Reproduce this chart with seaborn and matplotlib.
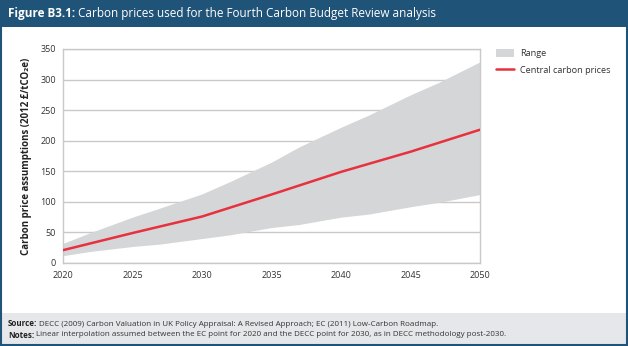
import matplotlib
matplotlib.use("Agg")
import matplotlib.pyplot as plt
import seaborn as sns
import pandas as pd
from matplotlib.patches import Rectangle, Patch
from matplotlib.lines import Line2D

# ---- data ----
central_years = [2020, 2025, 2030, 2035, 2040, 2045, 2050]
central_values = [21, 49, 76, 112, 149, 182, 218]

range_years = [2020, 2022, 2025, 2027, 2030, 2032, 2035, 2037, 2040, 2042, 2045, 2047, 2050]
range_high = [32, 50, 75, 90, 113, 133, 165, 190, 222, 242, 275, 295, 329]
range_low = [12, 19, 27, 31, 40, 46, 58, 63, 75, 80, 92, 99, 112]

x_ticks = [2020, 2025, 2030, 2035, 2040, 2045, 2050]
y_ticks = [0, 50, 100, 150, 200, 250, 300, 350]

title_bold = "Figure B3.1:"
title_rest = " Carbon prices used for the Fourth Carbon Budget Review analysis"
y_label = "Carbon price assumptions (2012 £/tCO₂e)"
legend_labels = ["Range", "Central carbon prices"]
source_text = "DECC (2009) Carbon Valuation in UK Policy Appraisal: A Revised Approach; EC (2011) Low-Carbon Roadmap."
notes_text = "Linear interpolation assumed between the EC point for 2020 and the DECC point for 2030, as in DECC methodology post-2030."

# ---- style ----
sns.set_theme(style="white")
plt.rcParams['font.family'] = ['Open Sans', 'DejaVu Sans']

BLUE = "#1f5378"
RED = "#e8313f"
GREY_FILL = "#d5d6d8"
GRID = "#c9c9c9"
TEXT = "#333333"

W, H = 628, 346
fig = plt.figure(figsize=(W / 100, H / 100), dpi=100)

# title bar, footer, border
fig.patches.append(Rectangle((0, 1 - 27 / H), 1, 27 / H, transform=fig.transFigure,
                             facecolor=BLUE, edgecolor='none', zorder=0))
fig.patches.append(Rectangle((0, 2 / H), 1, 31 / H, transform=fig.transFigure,
                             facecolor="#e6e7ea", edgecolor='none', zorder=0))
fig.patches.append(Rectangle((1 / W, 1 / H), 1 - 2.5 / W, 1 - 2 / H, transform=fig.transFigure,
                             facecolor='none', edgecolor=BLUE, linewidth=1.5, zorder=5))

ax = fig.add_axes([63 / W, 1 - 263 / H, (480 - 63) / W, (263 - 49) / H])

rdf = pd.DataFrame({"year": range_years, "low": range_low, "high": range_high})
ax.fill_between(rdf["year"], rdf["low"], rdf["high"], color=GREY_FILL, linewidth=0, zorder=1)

df = pd.DataFrame({"year": central_years, "value": central_values})
sns.lineplot(data=df, x="year", y="value", ax=ax, color=RED, linewidth=1.8, zorder=3)

ax.set_xlim(2020, 2050)
ax.set_ylim(0, 350)
ax.set_xticks(x_ticks)
ax.set_yticks(y_ticks)
ax.yaxis.grid(True, color=GRID, linewidth=1.0, zorder=0)
ax.set_axisbelow(True)
for s in ax.spines.values():
    s.set_color(GRID)
    s.set_linewidth(1.0)
ax.tick_params(axis='x', length=3, width=0.8, color=GRID, labelsize=6.5, labelcolor=TEXT, pad=3)
ax.tick_params(axis='y', length=0, labelsize=6.5, labelcolor=TEXT, pad=5)
ax.set_xlabel("")
ax.set_ylabel(y_label, fontsize=7.0, fontweight='bold', color="#222222", labelpad=6)

# legend
handles = [Patch(facecolor=GREY_FILL, edgecolor='none'),
           Line2D([0], [0], color=RED, linewidth=1.8)]
fig.legend(handles, legend_labels, loc='upper left',
           bbox_to_anchor=(488 / W, 1 - 41 / H), frameon=False, fontsize=6.6,
           handlelength=1.9, handleheight=1.0, labelcolor=TEXT, labelspacing=0.75,
           handletextpad=0.7)

# title
t = fig.text(8 / W, 1 - 14 / H, title_bold, color='white', fontsize=8.5,
             fontweight='bold', va='center', ha='left')
fig.canvas.draw()
bb = t.get_window_extent()
fig.text(bb.x1 / W, 1 - 14 / H, title_rest, color='white', fontsize=8.5,
         va='center', ha='left')

# footer
for ypix, bold, txt in [(324, "Source:", source_text), (335, "Notes:", notes_text)]:
    tb = fig.text(8 / W, 1 - ypix / H, bold, fontsize=5.8, fontweight='bold',
                  color="#222222", va='center', ha='left')
    fig.canvas.draw()
    b = tb.get_window_extent()
    fig.text(b.x1 / W + 2 / W, 1 - ypix / H, txt, fontsize=5.8, color="#333333",
             va='center', ha='left')

fig.savefig("out.png", dpi=100)
